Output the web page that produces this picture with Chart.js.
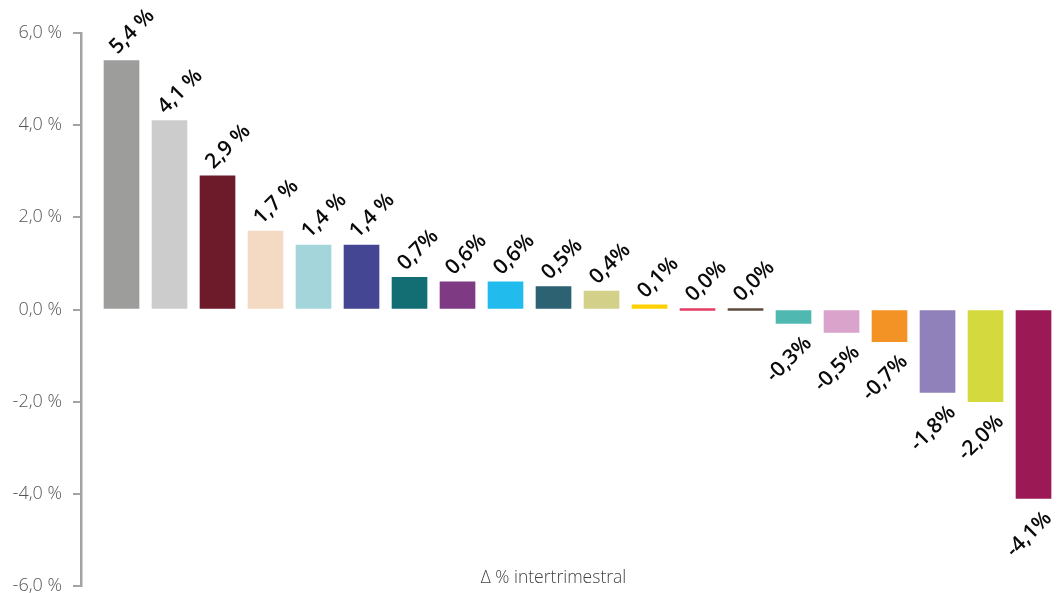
<!DOCTYPE html>
<html>
<head>
<meta charset="utf-8">
<script src="https://cdn.jsdelivr.net/npm/chart.js@4.4.1/dist/chart.umd.min.js"></script>
<style>
  html, body { margin: 0; padding: 0; background: #fff; }
  #wrap { width: 1058px; height: 593px; }
</style>
</head>
<body>
<div id="wrap"><canvas id="bars"></canvas></div>
<script>
// quarterly change per series, in the order they are drawn
const values = [5.4, 4.1, 2.9, 1.7, 1.4, 1.4, 0.7, 0.6, 0.6, 0.5, 0.4, 0.1, 0.0, 0.0, -0.3, -0.5, -0.7, -1.8, -2.0, -4.1];
const valueLabels = ['5,4 %', '4,1 %', '2,9 %', '1,7 %', '1,4 %', '1,4 %', '0,7%', '0,6%', '0,6%', '0,5%', '0,4%', '0,1%', '0,0%', '0,0%', '-0,3%', '-0,5%', '-0,7%', '-1,8%', '-2,0%', '-4,1%'];
const barColors = ['#9d9d9c', '#cbcccb', '#6d1a2a', '#f4dac2', '#a3d5db', '#444693', '#136e74', '#7e3b84', '#22bbee', '#2d6272',
                   '#d3d08a', '#ffd000', '#e23c63', '#5c4a3c', '#4fb8b0', '#d9a3cb', '#f39325', '#9081ba', '#d4da3e', '#9b1a55'];
const yTicks = [-6, -4, -2, 0, 2, 4, 6];
const yTickLabels = ['-6,0 %', '-4,0 %', '-2,0 %', '0,0 %', '2,0 %', '4,0 %', '6,0 %'];
const axisTitle = 'Δ % intertrimestral';

const points = values.map((v, i) => ({ x: i, y: v }));

// rotated value labels at the end of each bar, plus the axis caption
const barLabels = {
  id: 'barLabels',
  afterDatasetsDraw(chart) {
    const ctx = chart.ctx;
    const meta = chart.getDatasetMeta(0);
    ctx.save();
    ctx.font = '600 21px "Open Sans"';
    ctx.fillStyle = '#0a0a0a';
    ctx.textBaseline = 'alphabetic';
    meta.data.forEach((bar, i) => {
      const v = values[i];
      ctx.save();
      if (v >= 0) {
        const top = Math.min(bar.y, bar.base);
        ctx.translate(bar.x - 4, top - 6);
        ctx.rotate(-Math.PI / 4);
        ctx.textAlign = 'left';
      } else {
        ctx.translate(bar.x + 19, bar.y + 21);
        ctx.rotate(-Math.PI / 4);
        ctx.textAlign = 'right';
      }
      ctx.fillText(valueLabels[i], 0, 0);
      ctx.restore();
    });

    const xs = chart.scales.x;
    ctx.font = '300 17.5px "Open Sans"';
    ctx.fillStyle = '#444';
    ctx.textAlign = 'center';
    ctx.textBaseline = 'middle';
    ctx.fillText(axisTitle, xs.getPixelForValue(9), chart.chartArea.bottom - 8);
    ctx.restore();
  }
};

new Chart(document.getElementById('bars'), {
  type: 'bar',
  data: {
    datasets: [{
      data: points,
      backgroundColor: barColors,
      borderWidth: 0,
      barThickness: 35,
      minBarLength: 2
    }]
  },
  options: {
    responsive: true,
    maintainAspectRatio: false,
    animation: false,
    layout: { padding: { top: 33, bottom: 7, left: 0, right: 0 } },
    plugins: {
      legend: { display: false },
      tooltip: { enabled: false }
    },
    scales: {
      x: {
        type: 'linear',
        offset: false,
        min: -0.844,
        max: 19.51,
        display: false
      },
      y: {
        min: -6,
        max: 6,
        afterBuildTicks: (scale) => { scale.ticks = yTicks.map(v => ({ value: v })); },
        afterFit: (scale) => {
          scale.width = 81;
          scale.paddingTop = 0;
          scale.paddingBottom = 0;
        },
        border: { display: true, color: '#a3a3a3', width: 2.5 },
        grid: {
          drawOnChartArea: false,
          drawTicks: true,
          tickLength: 8,
          color: '#a3a3a3',
          lineWidth: 2
        },
        ticks: {
          padding: 11,
          color: '#555',
          font: { family: 'Open Sans', size: 18, weight: '300' },
          callback: (v) => yTickLabels[yTicks.indexOf(v)]
        }
      }
    }
  },
  plugins: [barLabels]
});
</script>
</body>
</html>
